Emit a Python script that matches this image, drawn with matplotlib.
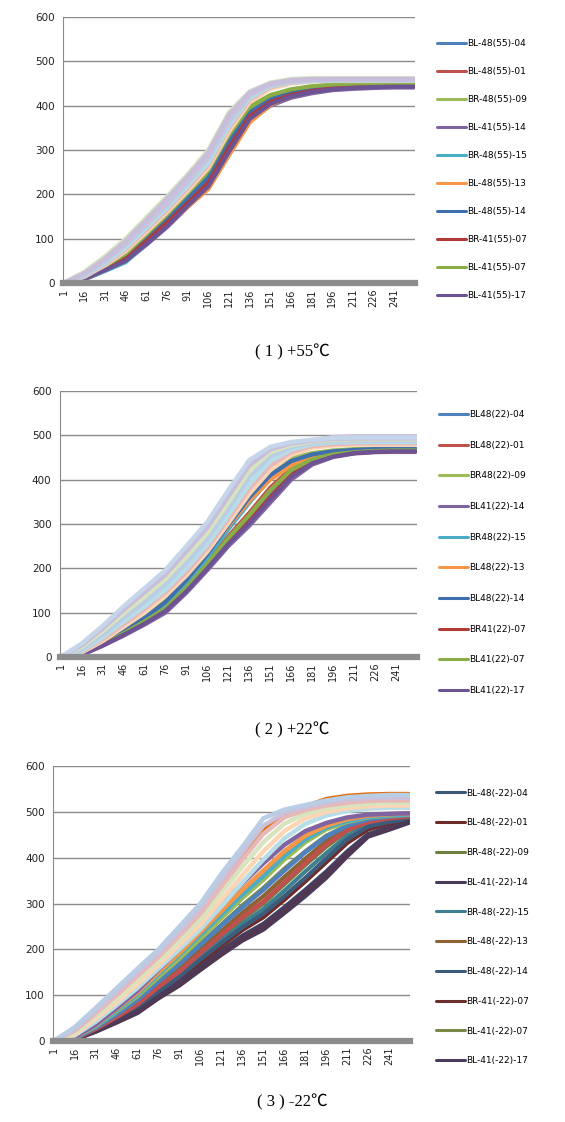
import matplotlib
matplotlib.use("Agg")
import matplotlib.pyplot as plt

x_pts = [1, 16, 31, 46, 61, 76, 91, 106, 121, 136, 151, 166, 181, 196, 211, 226, 241, 255]
x_ticks = list(range(1, 242, 15))

# ---- (1) +55 C ----
names_55 = ["BL-48(55)-04", "BL-48(55)-01", "BR-48(55)-09", "BL-41(55)-14", "BR-48(55)-15",
            "BL-48(55)-13", "BL-48(55)-14", "BR-41(55)-07", "BL-41(55)-07", "BL-41(55)-17"]
main_55 = [
    [0, 9, 30, 52, 90, 132, 178, 222, 300, 372, 405, 422, 432, 438, 441, 443, 444, 444],
    [0, 10, 32, 55, 95, 138, 184, 230, 310, 380, 410, 426, 435, 440, 443, 445, 446, 446],
    [0, 12, 36, 62, 104, 148, 196, 245, 325, 390, 418, 432, 440, 444, 447, 448, 448, 448],
    [0, 8, 28, 49, 86, 126, 172, 214, 292, 366, 400, 418, 428, 435, 438, 440, 441, 441],
    [0, 8, 27, 47, 88, 130, 176, 220, 298, 372, 406, 424, 434, 440, 443, 445, 446, 446],
    [0, 9, 30, 52, 92, 132, 172, 212, 288, 362, 402, 422, 434, 441, 445, 447, 448, 448],
    [0, 11, 34, 58, 98, 142, 190, 238, 318, 385, 414, 430, 438, 443, 446, 448, 449, 449],
    [0, 10, 31, 54, 94, 136, 180, 226, 305, 376, 408, 424, 433, 439, 442, 444, 445, 445],
    [0, 13, 38, 66, 110, 155, 204, 254, 335, 398, 424, 437, 444, 448, 450, 451, 451, 451],
    [0, 9, 29, 50, 88, 128, 174, 218, 296, 370, 404, 421, 431, 437, 440, 442, 443, 443],
]
extra_55 = [
    [0, 14, 40, 72, 115, 160, 208, 260, 342, 408, 438, 450, 455, 456, 456, 456, 456, 456],
    [0, 15, 42, 76, 120, 165, 214, 266, 350, 414, 442, 452, 456, 457, 457, 457, 457, 457],
    [0, 16, 45, 80, 125, 170, 220, 272, 356, 418, 444, 453, 456, 457, 457, 457, 457, 457],
    [0, 18, 48, 85, 130, 175, 225, 280, 362, 422, 446, 454, 457, 458, 458, 458, 458, 458],
    [0, 25, 60, 100, 148, 195, 245, 300, 385, 432, 452, 460, 462, 462, 462, 462, 462, 462],
    [0, 20, 52, 90, 136, 182, 232, 288, 372, 426, 448, 456, 459, 460, 460, 460, 460, 460],
    [0, 22, 55, 95, 142, 190, 240, 295, 380, 430, 450, 458, 460, 460, 460, 460, 460, 460],
]

# ---- (2) +22 C ----
names_22 = ["BL48(22)-04", "BL48(22)-01", "BR48(22)-09", "BL41(22)-14", "BR48(22)-15",
            "BL48(22)-13", "BL48(22)-14", "BR41(22)-07", "BL41(22)-07", "BL41(22)-17"]
main_22 = [
    [0, 6, 27, 52, 78, 108, 152, 205, 262, 312, 368, 415, 442, 455, 461, 464, 465, 465],
    [0, 6, 28, 54, 82, 114, 160, 214, 272, 325, 382, 425, 447, 458, 463, 466, 467, 467],
    [0, 8, 33, 62, 94, 130, 180, 238, 305, 370, 420, 448, 460, 466, 469, 470, 470, 470],
    [0, 5, 25, 48, 73, 100, 145, 196, 250, 296, 348, 400, 434, 451, 459, 462, 463, 463],
    [0, 7, 30, 56, 86, 120, 168, 224, 288, 348, 402, 438, 455, 462, 466, 468, 468, 468],
    [0, 9, 36, 68, 104, 150, 196, 240, 295, 352, 400, 432, 450, 460, 465, 467, 468, 468],
    [0, 7, 30, 57, 88, 124, 174, 232, 298, 360, 410, 442, 457, 464, 467, 469, 469, 469],
    [0, 6, 27, 51, 77, 106, 150, 202, 258, 306, 360, 410, 440, 454, 460, 463, 464, 464],
    [0, 6, 28, 53, 80, 110, 156, 210, 268, 320, 376, 422, 446, 457, 462, 465, 466, 466],
    [0, 5, 26, 50, 75, 104, 148, 200, 255, 302, 355, 406, 437, 452, 460, 463, 464, 464],
]
extra_22 = [
    [0, 10, 36, 68, 100, 138, 184, 238, 302, 368, 422, 456, 472, 477, 479, 479, 479, 479],
    [0, 12, 40, 74, 108, 146, 192, 246, 312, 380, 432, 462, 476, 480, 482, 482, 482, 482],
    [0, 14, 44, 80, 114, 152, 200, 254, 320, 390, 442, 468, 480, 484, 485, 485, 485, 485],
    [0, 18, 50, 88, 124, 164, 212, 266, 334, 406, 452, 474, 483, 487, 488, 488, 488, 488],
    [0, 22, 58, 98, 136, 176, 226, 280, 348, 420, 462, 478, 486, 490, 491, 491, 491, 491],
    [0, 28, 67, 110, 150, 191, 244, 298, 370, 438, 471, 483, 489, 496, 498, 498, 498, 498],
    [0, 26, 64, 106, 146, 186, 238, 292, 362, 432, 468, 482, 488, 492, 493, 493, 493, 493],
    [0, 30, 70, 114, 155, 196, 250, 305, 376, 444, 474, 485, 490, 494, 495, 495, 495, 495],
]

# ---- (3) -22 C ----
names_m22 = ["BL-48(-22)-04", "BL-48(-22)-01", "BR-48(-22)-09", "BL-41(-22)-14", "BR-48(-22)-15",
             "BL-48(-22)-13", "BL-48(-22)-14", "BR-41(-22)-07", "BL-41(-22)-07", "BL-41(-22)-17"]
main_m22 = [
    [0, 4, 22, 44, 66, 98, 128, 164, 198, 230, 256, 292, 330, 370, 414, 452, 466, 478],
    [0, 4, 23, 46, 70, 104, 136, 172, 208, 242, 270, 308, 348, 390, 432, 462, 474, 482],
    [0, 5, 26, 52, 80, 116, 150, 190, 228, 266, 300, 342, 384, 424, 458, 478, 485, 488],
    [0, 3, 20, 40, 61, 93, 121, 155, 188, 219, 243, 279, 316, 356, 403, 446, 461, 476],
    [0, 5, 25, 50, 76, 110, 144, 182, 220, 256, 288, 328, 370, 410, 448, 472, 482, 486],
    [0, 6, 28, 56, 86, 124, 160, 200, 240, 280, 316, 358, 398, 436, 464, 480, 486, 490],
    [0, 4, 24, 48, 73, 107, 140, 178, 214, 248, 278, 316, 356, 398, 440, 468, 478, 484],
    [0, 3, 21, 42, 64, 96, 125, 160, 194, 226, 252, 288, 326, 366, 410, 450, 464, 478],
    [0, 6, 30, 60, 92, 132, 170, 212, 254, 296, 334, 376, 414, 448, 470, 484, 488, 492],
    [0, 4, 21, 43, 65, 97, 127, 162, 196, 228, 254, 290, 328, 368, 412, 450, 465, 477],
]
extra_m22 = [
    [0, 5, 26, 52, 80, 118, 152, 192, 232, 270, 304, 346, 388, 428, 460, 478, 486, 490],
    [0, 6, 29, 58, 90, 130, 168, 210, 252, 292, 330, 372, 412, 446, 470, 484, 490, 493],
    [0, 7, 32, 64, 98, 140, 180, 224, 268, 312, 352, 396, 434, 462, 478, 488, 492, 494],
    [0, 7, 33, 66, 102, 146, 188, 232, 276, 320, 360, 404, 440, 466, 480, 489, 493, 495],
    [0, 8, 35, 70, 106, 150, 192, 238, 284, 330, 372, 414, 448, 470, 484, 492, 495, 497],
    [0, 8, 36, 72, 110, 156, 200, 248, 296, 344, 388, 428, 458, 476, 488, 494, 496, 497],
    [0, 24, 62, 104, 146, 188, 236, 284, 346, 404, 460, 494, 512, 528, 535, 538, 539, 539],
    [0, 12, 42, 78, 116, 158, 200, 244, 294, 346, 396, 442, 474, 492, 502, 507, 509, 509],
    [0, 14, 48, 84, 124, 166, 210, 254, 308, 362, 414, 458, 486, 500, 508, 512, 514, 514],
    [0, 18, 54, 92, 134, 176, 220, 266, 324, 380, 434, 474, 496, 508, 514, 518, 520, 520],
    [0, 22, 60, 100, 142, 184, 230, 278, 338, 396, 452, 488, 504, 514, 520, 524, 525, 525],
    [0, 26, 66, 108, 150, 192, 240, 290, 352, 412, 470, 498, 510, 520, 527, 530, 531, 531],
    [0, 30, 72, 115, 158, 200, 250, 300, 365, 424, 486, 505, 515, 525, 532, 535, 537, 537],
]

col_std = ["#4F81BD", "#C0504D", "#9BBB59", "#8064A2", "#4BACC6", "#F79646",
           "#3F6FAF", "#B03A37", "#8AAE45", "#6E5394"]
col_dark = ["#3B5876", "#6E2B2A", "#6E7F3E", "#4A3B5C", "#3E7F8F", "#8E6233",
            "#3D5B7A", "#6B2F2E", "#7A8848", "#4B3A5A"]
col_pale = ["#FCD5B5", "#E6B9B8", "#B7DEE8", "#B9CDE5", "#D7E4BD", "#CCC1DA", "#C8BEDC", "#C5D5EA"]
col_mid_m22 = ["#C0504D", "#4F81BD", "#9BBB59", "#4BACC6", "#F79646", "#8064A2", "#E46C0A"]
col_pale_m22 = ["#B7DEE8", "#FCD5B5", "#D7E4BD", "#E6B9B8", "#CCC1DA", "#B9CDE5"]

fig = plt.figure(figsize=(5.65, 11.22), dpi=100)

# rect, legend names, legend series, colours, other series, colours, caption, caption y,
# legend spacing, legend anchor
panels = [
    ([0.1115, 0.7478, 0.623, 0.237], names_55, main_55, col_std, extra_55, col_pale,
     "( 1 ) +55℃", 0.679, 2.1, (1.04, 0.947)),
    ([0.106, 0.4144, 0.632, 0.2371], names_22, main_22, col_std, extra_22, col_pale,
     "( 2 ) +22℃", 0.342, 2.4, (1.04, 0.959)),
    ([0.0938, 0.0722, 0.632, 0.245], names_m22, main_m22, col_dark, extra_m22,
     col_mid_m22 + col_pale_m22, "( 3 ) -22℃", 0.010, 2.3, (1.05, 0.948)),
]

for rect, names, main, cols, extra, ecols, cap, cap_y, lsp, anchor in panels:
    ax = fig.add_axes(rect)
    lines = []
    for vals, c, nm in zip(main, cols, names):
        ln, = ax.plot(x_pts, vals, color=c, lw=3.0, label=nm,
                      solid_capstyle="round", solid_joinstyle="round")
        lines.append(ln)
    for i, vals in enumerate(extra):
        ax.plot(x_pts, vals, color=ecols[i % len(ecols)], lw=3.2,
                solid_capstyle="round", solid_joinstyle="round")

    ax.set_xlim(0.5, 256)
    ax.set_ylim(0, 600)
    ax.set_yticks(range(0, 601, 100))
    ax.set_xticks(x_ticks)
    ax.set_xticklabels([str(t) for t in x_ticks], rotation=90, fontsize=7, color="#222222")
    ax.tick_params(axis="y", labelsize=7.5, labelcolor="#222222", length=0, pad=6)
    ax.tick_params(axis="x", length=0, pad=4)
    ax.grid(axis="y", color="#8a8a8a", lw=1)
    ax.set_axisbelow(True)
    for s in ["top", "right"]:
        ax.spines[s].set_visible(False)
    ax.spines["left"].set_color("#8a8a8a")
    ax.spines["bottom"].set_color("#8c8c8c")
    ax.spines["bottom"].set_linewidth(4.5)
    ax.spines["bottom"].set_zorder(5)

    leg = ax.legend(handles=lines, loc="upper left", bbox_to_anchor=anchor, frameon=False,
                    fontsize=6.5, labelspacing=lsp, handlelength=3.2, handletextpad=0.1)
    for h in leg.legend_handles:
        h.set_linewidth(2.2)

    fig.text(0.517, cap_y, cap, ha="center", va="bottom", fontsize=12,
             family=["Liberation Serif", "Noto Sans CJK SC", "DejaVu Serif"])

fig.savefig("out.png", dpi=100)
